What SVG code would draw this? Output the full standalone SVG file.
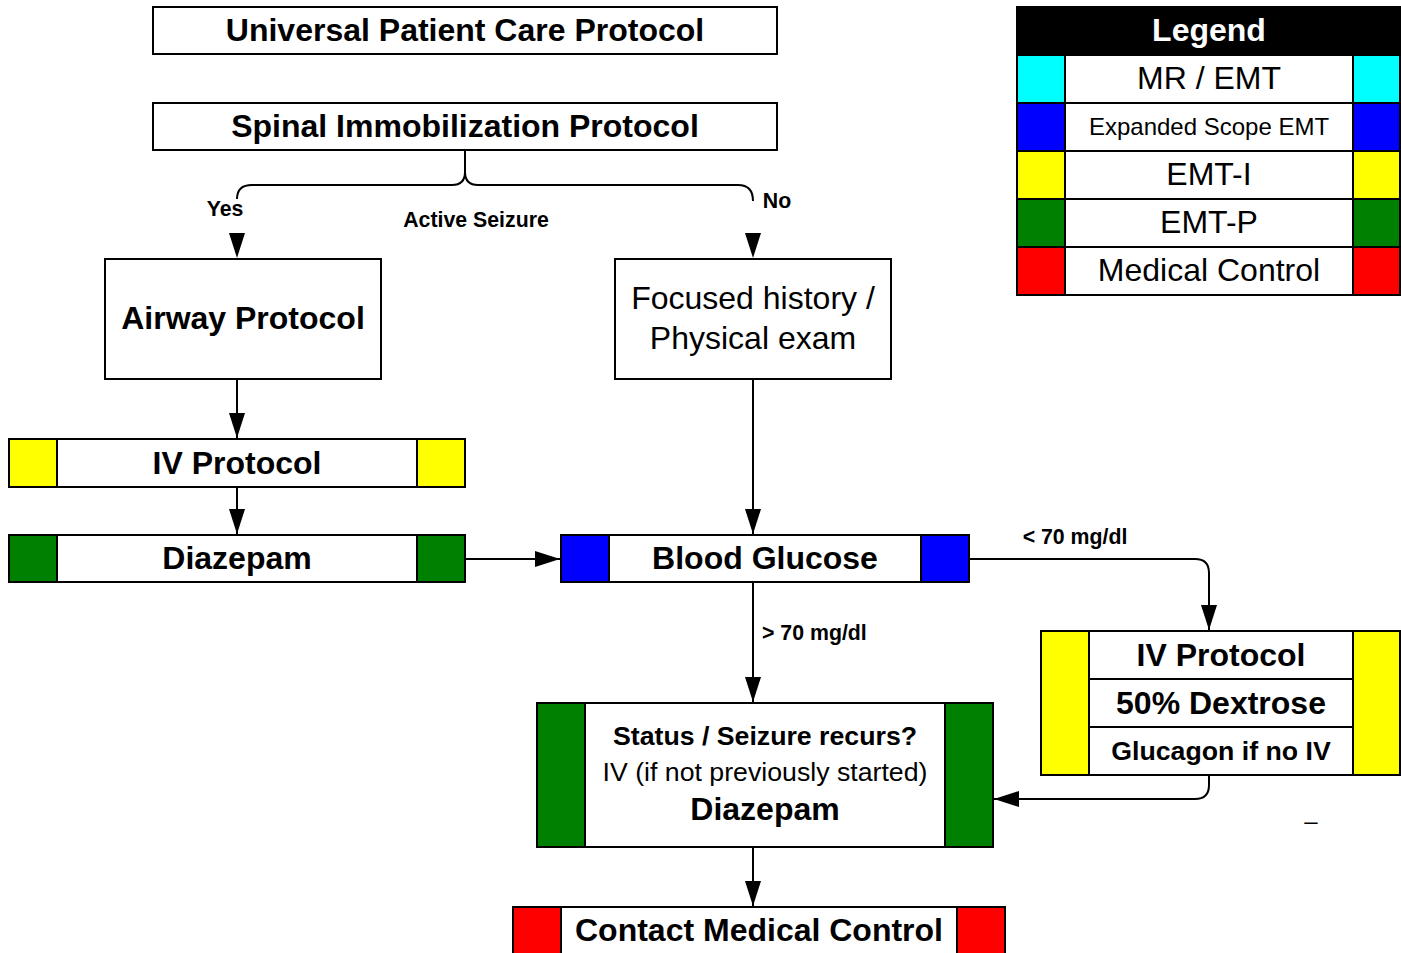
<svg xmlns="http://www.w3.org/2000/svg" width="1401" height="953" viewBox="0 0 1401 953">
<defs>
<marker id="arr" markerUnits="userSpaceOnUse" markerWidth="26" markerHeight="16" refX="25" refY="8" orient="auto"><path d="M0,0 L25,8 L0,16 z" fill="#000"/></marker>
<style>
.box{fill:#fff;stroke:#000;stroke-width:2}
.cell{stroke:#000;stroke-width:2}
.t{font-family:"Liberation Sans",Arial,sans-serif;text-anchor:middle;fill:#000}
.b{font-weight:bold}
.big{font-size:32px}
.mid{font-size:26.7px}
.sm{font-size:21.3px;font-weight:bold}
.ln{fill:none;stroke:#000;stroke-width:2}
.y{fill:#ffff00}.g{fill:#008000}.bl{fill:#0000ff}.r{fill:#ff0000}.c{fill:#00ffff}
</style>
</defs>
<rect width="1401" height="953" fill="#fff"/>

<g id="connectors">
<path class="ln" d="M465,150 L465,172 Q465,185 452,185 L252,185 Q237,185 237,199"/>
<path class="ln" d="M465,172 Q465,185 478,185 L738,185 Q753,185 753,201"/>
<path d="M229,233 L245,233 L237,258 z" fill="#000"/>
<path d="M745,233 L761,233 L753,258 z" fill="#000"/>
<path class="ln" d="M237,379 L237,438" marker-end="url(#arr)"/>
<path class="ln" d="M237,487 L237,534" marker-end="url(#arr)"/>
<path class="ln" d="M465,559 L560,559" marker-end="url(#arr)"/>
<path class="ln" d="M753,379 L753,534" marker-end="url(#arr)"/>
<path class="ln" d="M753,582 L753,702" marker-end="url(#arr)"/>
<path class="ln" d="M969,559 L1195,559 Q1209,559 1209,573 L1209,630" marker-end="url(#arr)"/>
<path class="ln" d="M1209,775 L1209,785 Q1209,799 1195,799 L994,799" marker-end="url(#arr)"/>
<path class="ln" d="M753,847 L753,906" marker-end="url(#arr)"/>
<text class="t sm" x="225" y="216">Yes</text>
<text class="t sm" x="476" y="227">Active Seizure</text>
<text class="t sm" x="777" y="208">No</text>
<text class="t sm" x="1075" y="544">&lt; 70 mg/dl</text>
<text class="t sm" x="762" y="640" style="text-anchor:start">&gt; 70 mg/dl</text>
</g>

<g id="universal">
<rect class="box" x="153" y="7" width="624" height="47"/>
<text class="t b big" x="465" y="41">Universal Patient Care Protocol</text>
</g>

<g id="spinal">
<rect class="box" x="153" y="103" width="624" height="47"/>
<text class="t b big" x="465" y="137">Spinal Immobilization Protocol</text>
</g>

<g id="airway">
<rect class="box" x="105" y="259" width="276" height="120"/>
<text class="t b big" x="243" y="329">Airway Protocol</text>
</g>

<g id="focused">
<rect class="box" x="615" y="259" width="276" height="120"/>
<text class="t big" x="753" y="309">Focused history /</text>
<text class="t big" x="753" y="349">Physical exam</text>
</g>

<g id="iv-left">
<rect class="box" x="9" y="439" width="456" height="48"/>
<rect class="cell y" x="9" y="439" width="48" height="48"/>
<rect class="cell y" x="417" y="439" width="48" height="48"/>
<text class="t b big" x="237" y="474">IV Protocol</text>
</g>

<g id="diazepam-left">
<rect class="box" x="9" y="535" width="456" height="47"/>
<rect class="cell g" x="9" y="535" width="48" height="47"/>
<rect class="cell g" x="417" y="535" width="48" height="47"/>
<text class="t b big" x="237" y="569">Diazepam</text>
</g>

<g id="blood-glucose">
<rect class="box" x="561" y="535" width="408" height="47"/>
<rect class="cell bl" x="561" y="535" width="48" height="47"/>
<rect class="cell bl" x="921" y="535" width="48" height="47"/>
<text class="t b big" x="765" y="569">Blood Glucose</text>
</g>

<g id="dextrose">
<rect class="box" x="1041" y="631" width="359" height="144"/>
<rect class="cell y" x="1041" y="631" width="48" height="144"/>
<rect class="cell y" x="1353" y="631" width="47" height="144"/>
<line class="ln" x1="1089" y1="679" x2="1353" y2="679"/>
<line class="ln" x1="1089" y1="727" x2="1353" y2="727"/>
<text class="t b big" x="1221" y="665.5">IV Protocol</text>
<text class="t b big" x="1221" y="713.5">50% Dextrose</text>
<text class="t b mid" x="1221" y="759.5">Glucagon if no IV</text>
</g>

<g id="status">
<rect class="box" x="537" y="703" width="456" height="144"/>
<rect class="cell g" x="537" y="703" width="48" height="144"/>
<rect class="cell g" x="945" y="703" width="48" height="144"/>
<text class="t b mid" x="765" y="744.6">Status / Seizure recurs?</text>
<text class="t mid" x="765" y="780.6">IV (if not previously started)</text>
<text class="t b big" x="765" y="819.5">Diazepam</text>
</g>

<g id="contact">
<rect class="box" x="513" y="907" width="492" height="50"/>
<rect class="cell r" x="513" y="907" width="48" height="50"/>
<rect class="cell r" x="957" y="907" width="48" height="50"/>
<text class="t b big" x="759" y="940.5">Contact Medical Control</text>
</g>

<g id="dash">
<text class="t" style="font-size:24px" x="1311" y="829">–</text>
</g>

<g id="legend">
<rect x="1017" y="7" width="383" height="48" fill="#000" stroke="#000" stroke-width="2"/>
<text class="t b big" x="1209" y="41" style="fill:#fff">Legend</text>
<rect class="box" x="1017" y="55" width="383" height="240"/>
<rect class="cell c" x="1017" y="55" width="48" height="48"/>
<rect class="cell c" x="1353" y="55" width="47" height="48"/>
<rect class="cell bl" x="1017" y="103" width="48" height="48"/>
<rect class="cell bl" x="1353" y="103" width="47" height="48"/>
<rect class="cell y" x="1017" y="151" width="48" height="48"/>
<rect class="cell y" x="1353" y="151" width="47" height="48"/>
<rect class="cell g" x="1017" y="199" width="48" height="48"/>
<rect class="cell g" x="1353" y="199" width="47" height="48"/>
<rect class="cell r" x="1017" y="247" width="48" height="48"/>
<rect class="cell r" x="1353" y="247" width="47" height="48"/>
<line class="ln" x1="1065" y1="103" x2="1353" y2="103"/>
<line class="ln" x1="1065" y1="151" x2="1353" y2="151"/>
<line class="ln" x1="1065" y1="199" x2="1353" y2="199"/>
<line class="ln" x1="1065" y1="247" x2="1353" y2="247"/>
<text class="t big" x="1209" y="89">MR / EMT</text>
<text class="t" style="font-size:24px" x="1209" y="134.5">Expanded Scope EMT</text>
<text class="t big" x="1209" y="185">EMT-I</text>
<text class="t big" x="1209" y="233">EMT-P</text>
<text class="t big" x="1209" y="281">Medical Control</text>
</g>
</svg>
